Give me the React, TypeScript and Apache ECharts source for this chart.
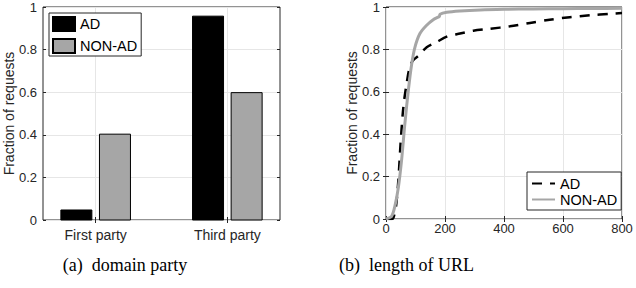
import React, { useEffect, useRef } from "react";
import * as echarts from "echarts";

// ---- data: (a) domain party ----
const partyCategories = ["First party", "Third party"];
const partyPositions = [1, 2];
const adParty = [0.047, 0.957];
const nonAdParty = [0.403, 0.598];

// ---- data: (b) length of URL (CDF) ----
const adLength = [5, 20, 25, 34, 42, 50, 59, 70, 81, 93, 110, 138, 172, 206, 251, 296, 352, 420, 488, 555, 623, 691, 759, 800];
const adCdf = [0, 0, 0.005, 0.06, 0.185, 0.37, 0.53, 0.64, 0.72, 0.75, 0.77, 0.81, 0.835, 0.86, 0.875, 0.888, 0.897, 0.909, 0.925, 0.94, 0.952, 0.961, 0.968, 0.972];
const nonAdLength = [0, 19, 30, 42, 53, 64, 76, 87, 98, 115, 138, 160, 177, 181, 183, 206, 251, 319, 400, 500, 600, 700, 800];
const nonAdCdf = [0, 0.013, 0.06, 0.15, 0.28, 0.45, 0.61, 0.73, 0.81, 0.875, 0.914, 0.94, 0.952, 0.955, 0.966, 0.975, 0.981, 0.986, 0.989, 0.991, 0.992, 0.993, 0.994];

const captions = ["(a)  domain party", "(b)  length of URL"];
const yAxisTitle = "Fraction of requests";
const seriesNames = ["AD", "NON-AD"];

const AXIS = "#262626";
const GRIDLINE = "#e6e6e6";
const GRAY = "#a6a6a6";
const SANS = '"Liberation Sans", Arial, Helvetica, sans-serif';
const SERIF = '"Liberation Serif", "Times New Roman", serif';

const fractionAxes = (nameGap: number) => [
  {
    type: "value",
    min: 0,
    max: 1,
    interval: 0.2,
    name: yAxisTitle,
    nameLocation: "middle",
    nameGap,
    nameMoveOverlap: false,
    nameTextStyle: { fontSize: 14, color: AXIS, fontFamily: SANS },
    axisLine: { show: false },
    axisTick: { show: true, inside: true, length: 3, lineStyle: { color: AXIS } },
    axisLabel: { fontSize: 13, color: AXIS, margin: 6, fontFamily: SANS },
    splitLine: { show: true, lineStyle: { color: GRIDLINE, width: 1 } },
  },
  {
    type: "value",
    position: "right",
    min: 0,
    max: 1,
    interval: 0.2,
    axisLine: { show: false },
    axisTick: { show: true, inside: true, length: 3, lineStyle: { color: AXIS } },
    axisLabel: { show: false },
    splitLine: { show: false },
  },
];

const BAR_WIDTH = 31;
const BAR_OFFSET = 19.3;

const barSeries = (name: string, values: number[], fill: string, offset: number) => ({
  name,
  type: "custom",
  data: partyPositions.map((p, i) => [p, values[i]]),
  itemStyle: { color: fill, borderColor: "#000", borderWidth: 1 },
  encode: { x: 0, y: 1 },
  renderItem: (_params: any, api: any) => {
    const base = api.coord([api.value(0), 0]);
    const top = api.coord([api.value(0), api.value(1)]);
    const cx = base[0] + offset;
    return {
      type: "rect",
      shape: { x: cx - BAR_WIDTH / 2, y: top[1], width: BAR_WIDTH, height: base[1] - top[1] },
      style: { fill, stroke: "#000", lineWidth: 1 },
    };
  },
});

function buildPartyOption(): any {
  const xCommon = { type: "value", min: 0.6, max: 2.4, interval: 0.6 };
  return {
    animation: false,
    textStyle: { fontFamily: SANS },
    grid: {
      left: 43, right: 38, top: 7, bottom: 68,
      outerBoundsMode: "none", containLabel: false,
      show: true, borderColor: AXIS, borderWidth: 1, backgroundColor: "transparent",
    },
    xAxis: [
      {
        ...xCommon,
        axisLine: { show: false },
        axisTick: { show: true, inside: true, length: 3, customValues: partyPositions, lineStyle: { color: AXIS } },
        axisLabel: {
          customValues: partyPositions,
          formatter: (v: number) => partyCategories[partyPositions.indexOf(Math.round(v))] ?? "",
          fontSize: 14,
          color: AXIS,
          margin: 8,
          fontFamily: SANS,
        },
        splitLine: { show: true, lineStyle: { color: GRIDLINE, width: 1 } },
      },
      {
        ...xCommon,
        position: "top",
        axisLine: { show: false },
        axisTick: { show: true, inside: true, length: 3, customValues: partyPositions, lineStyle: { color: AXIS } },
        axisLabel: { show: false },
        splitLine: { show: false },
      },
    ],
    yAxis: fractionAxes(27),
    legend: {
      left: 49,
      top: 13,
      orient: "vertical",
      icon: "rect",
      itemWidth: 22,
      itemHeight: 14,
      itemGap: 6,
      padding: [3, 4, 2, 3],
      borderColor: AXIS,
      borderWidth: 1,
      borderRadius: 0,
      backgroundColor: "#fff",
      textStyle: { fontSize: 14.5, color: "#000", fontFamily: SANS },
      data: seriesNames,
    },
    series: [
      barSeries(seriesNames[0], adParty, "#000", -BAR_OFFSET),
      barSeries(seriesNames[1], nonAdParty, GRAY, BAR_OFFSET),
    ],
    graphic: [
      {
        type: "text",
        x: 125,
        y: 265,
        style: { text: captions[0], fill: "#000", fontSize: 18, fontFamily: SERIF, align: "center", verticalAlign: "middle" },
      },
    ],
  };
}

function buildLengthOption(): any {
  return {
    animation: false,
    textStyle: { fontFamily: SANS },
    grid: {
      left: 68, right: 14, top: 7, bottom: 69,
      outerBoundsMode: "none", containLabel: false,
      show: true, borderColor: AXIS, borderWidth: 1, backgroundColor: "transparent",
    },
    xAxis: [
      {
        type: "value",
        min: 0,
        max: 800,
        interval: 200,
        axisLine: { show: false },
        axisTick: { show: true, inside: true, length: 3, lineStyle: { color: AXIS } },
        axisLabel: { fontSize: 13, color: AXIS, margin: 3, fontFamily: SANS },
        splitLine: { show: true, lineStyle: { color: GRIDLINE, width: 1 } },
      },
      {
        type: "value",
        position: "top",
        min: 0,
        max: 800,
        interval: 200,
        axisLine: { show: false },
        axisTick: { show: true, inside: true, length: 3, lineStyle: { color: AXIS } },
        axisLabel: { show: false },
        splitLine: { show: false },
      },
    ],
    yAxis: fractionAxes(27),
    legend: {
      left: 209,
      top: 172,
      orient: "vertical",
      itemWidth: 23,
      itemHeight: 14,
      itemGap: 1,
      padding: [4, 4, 3, 4],
      borderColor: AXIS,
      borderWidth: 1,
      borderRadius: 0,
      backgroundColor: "#fff",
      itemStyle: { opacity: 0 },
      textStyle: { fontSize: 14.5, color: "#000", fontFamily: SANS },
      data: seriesNames,
    },
    series: [
      {
        name: seriesNames[0],
        type: "line",
        data: adLength.map((x, i) => [x, adCdf[i]]),
        symbol: "none",
        smooth: 0.3,
        lineStyle: { color: "#000", width: 2.5, type: [10, 8] },
        itemStyle: { color: "#000" },
      },
      {
        name: seriesNames[1],
        type: "line",
        data: nonAdLength.map((x, i) => [x, nonAdCdf[i]]),
        symbol: "none",
        smooth: 0.3,
        lineStyle: { color: GRAY, width: 3 },
        itemStyle: { color: GRAY },
      },
    ],
    graphic: [
      {
        type: "text",
        x: 88.5,
        y: 265,
        style: { text: captions[1], fill: "#000", fontSize: 18, fontFamily: SERIF, align: "center", verticalAlign: "middle" },
      },
    ],
  };
}

export default function App() {
  const leftRef = useRef<HTMLDivElement>(null);
  const rightRef = useRef<HTMLDivElement>(null);

  useEffect(() => {
    const left = echarts.init(leftRef.current!, undefined, { renderer: "svg" });
    const right = echarts.init(rightRef.current!, undefined, { renderer: "svg" });
    left.setOption(buildPartyOption());
    right.setOption(buildLengthOption());
    return () => {
      left.dispose();
      right.dispose();
    };
  }, []);

  return (
    <div style={{ position: "absolute", left: 0, top: 0, width: 636, height: 288, display: "flex", background: "#fff" }}>
      <div ref={leftRef} style={{ width: 318, height: 288 }} />
      <div ref={rightRef} style={{ width: 318, height: 288 }} />
    </div>
  );
}
